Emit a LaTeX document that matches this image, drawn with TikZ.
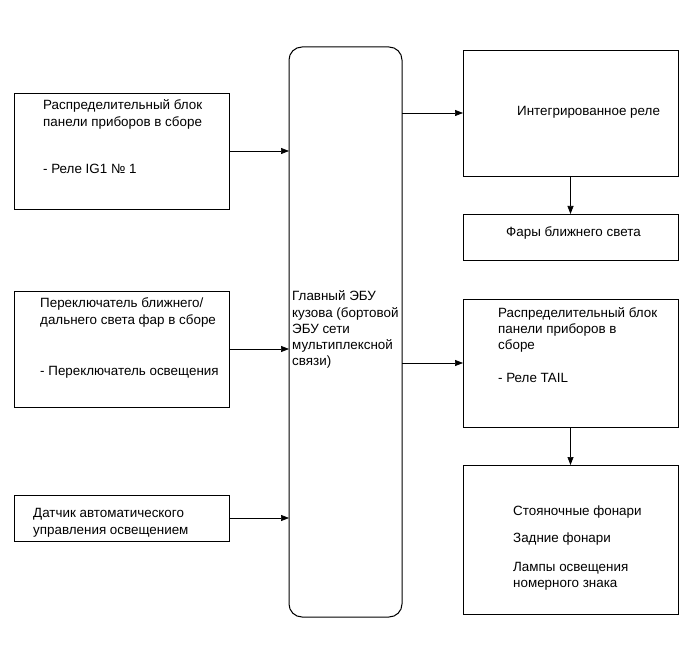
\documentclass[tikz,border=0pt]{standalone}
\usepackage{fontspec}
\setmainfont{Liberation Sans}
\usetikzlibrary{arrows.meta}
\begin{document}
\begin{tikzpicture}[x=1pt,y=-1pt,
  box/.style={draw,line width=0.9pt,rectangle,inner sep=0pt,outer sep=0pt,minimum width=215pt},
  ecubox/.style={draw,line width=1pt,rectangle,rounded corners=13pt,inner sep=0pt,outer sep=0pt,minimum width=113pt,minimum height=570pt},
  txt/.style={anchor=base west,inner sep=0pt,font=\fontsize{13.4}{16}\selectfont},
  arr/.style={line width=0.7pt,-{Triangle[length=8pt,width=6pt]}}]
\useasboundingbox (0,0) rectangle (691,660);
% boxes
\node[box,minimum height=116pt] (lb1) at (121.5,151) {};
\node[box,minimum height=116pt] (lb2) at (121.5,349) {};
\node[box,minimum height=46pt] (lb3) at (121.5,518) {};
\node[ecubox] (ecu) at (345.5,332) {};
\node[box,minimum height=126pt] (rb1) at (570.5,113) {};
\node[box,minimum height=46pt] (rb2) at (570.5,237) {};
\node[box,minimum height=128pt] (rb3) at (570.5,363) {};
\node[box,minimum height=149pt] (rb4) at (570.5,539.5) {};
% texts
\node[txt] (t1a) at (43,110) {Распределительный блок};
\node[txt] (t1b) at (43,127) {панели приборов в сборе};
\node[txt] (t1c) at (43,174) {- Реле IG1 № 1};
\node[txt] (t2a) at (40,308) {Переключатель ближнего/};
\node[txt] (t2b) at (40,325) {дальнего света фар в сборе};
\node[txt] (t2c) at (40,376) {- Переключатель освещения};
\node[txt] (t3a) at (33,517) {Датчик автоматического};
\node[txt] (t3b) at (33,534) {управления освещением};
\node[txt] (e1) at (292,301) {Главный ЭБУ};
\node[txt] (e2) at (292,318) {кузова (бортовой};
\node[txt] (e3) at (292,334) {ЭБУ сети};
\node[txt] (e4) at (292,350) {мультиплексной};
\node[txt] (e5) at (292,366) {связи)};
\node[txt] (r1) at (517,116) {Интегрированное реле};
\node[txt] (r2) at (506,237) {Фары ближнего света};
\node[txt] (r3a) at (498,318) {Распределительный блок};
\node[txt] (r3b) at (498,334) {панели приборов в};
\node[txt] (r3c) at (498,350) {сборе};
\node[txt] (r3d) at (498,382) {- Реле TAIL};
\node[txt] (r4a) at (513,515) {Стояночные фонари};
\node[txt] (r4b) at (513,542) {Задние фонари};
\node[txt] (r4c) at (513,571) {Лампы освещения};
\node[txt] (r4d) at (513,587) {номерного знака};
% connectors
\draw[arr] (lb1.east) -- (lb1.east -| ecu.west);
\draw[arr] (lb2.east) -- (lb2.east -| ecu.west);
\draw[arr] (lb3.east) -- (lb3.east -| ecu.west);
\draw[arr] (rb1.west -| ecu.east) -- (rb1.west);
\draw[arr] (rb3.west -| ecu.east) -- (rb3.west);
\draw[arr] (rb1.south) -- (rb2.north);
\draw[arr] (rb3.south) -- (rb4.north);
\end{tikzpicture}
\end{document}
